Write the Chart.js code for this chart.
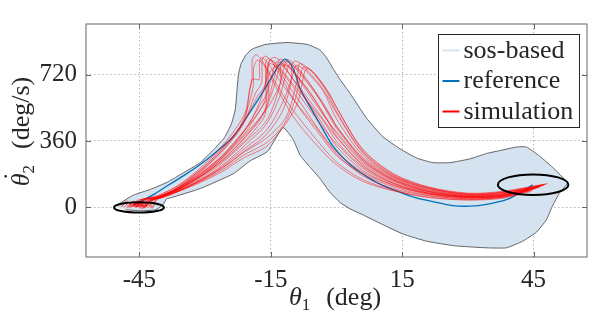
<!DOCTYPE html>
<html>
<head>
<meta charset="utf-8">
<script src="https://cdn.jsdelivr.net/npm/chart.js@4.4.1/dist/chart.umd.min.js"></script>
<style>
  body { margin: 0; background: #fff; }
  #wrap { width: 598px; height: 326px; }
  .probe { position: absolute; left: -999px; font-family: 'Liberation Serif'; }
</style>
</head>
<body>
<span class="probe">sos-based <i>θ</i></span>
<div id="wrap"><canvas id="phaseChart"></canvas></div>
<script>
// tick values
const thetaTicks = [-45, -15, 15, 45];
const rateTicks = [0, 360, 720];

// sos-based region outline, theta_1 (deg) / theta_2 dot (deg/s)
const regionTheta = [-50.7, -49.3, -46.4, -42.5, -38.6, -35.0, -31.1, -28.1, -25.6, -24.0, -23.1, -22.7, -22.4, -21.8, -20.6, -19.2, -16.1, -11.3, -6.7, -3.8, -2.2, -0.8, 0.8, 3.1, 6.9, 10.6, 14.5, 18.3, 22.0, 25.9, 30.4, 34.3, 37.2, 41.1, 43.4, 46.4, 49.3, 52.7, 50.9, 49.3, 47.9, 45.7, 42.5, 38.8, 34.3, 27.0, 20.6, 15.1, 10.6, 5.8, 3.1, 0.8, -1.5, -3.8, -6.0, -8.3, -9.9, -12.2, -15.8, -19.7, -23.6, -31.1, -37.9, -38.8, -39.7, -41.3, -44.8, -48.2];
const regionRate = [0, 23, 65, 96, 136, 186, 242, 312, 378, 453, 534, 644, 720, 780, 831, 861, 886, 896, 886, 856, 811, 755, 695, 619, 483, 383, 317, 267, 242, 242, 262, 292, 307, 327, 327, 277, 217, 131, 76, 5, -70, -136, -186, -222, -222, -211, -186, -146, -96, -40, -10, 25, 81, 156, 216, 282, 368, 433, 302, 252, 181, 101, 50, 45, 10, -15, -20, -15];

// reference trajectory
const refTheta = [-46.4, -44.8, -41.5, -38.6, -35, -31.1, -27.5, -23.6, -20.5, -17.4, -14.5, -12.9, -11.7, -9.9, -8.3, -6.0, -3.8, -0.8, 3.1, 6.9, 10.5, 14.5, 18, 22, 26.5, 30.5, 34.3, 38.8, 41.8, 44.8];
const refRate = [10, 30, 72, 116, 170, 232, 300, 383, 490, 604, 720, 780, 806, 755, 644, 544, 453, 332, 232, 166, 118, 81, 52, 30, 8, 5, 15, 40, 76, 121];

// simulated trajectories
const simTheta = [
  [-49.0, -48.0, -46.8, -44.5, -41, -36, -31, -26, -21, -19.8, -19.3, -19.2, -18.3, -16.8, -14, -10, -5, 0, 6, 13, 21, 30, 38, 44.0],
  [-44.0, -43.2, -42.3, -41.0, -38, -34, -29, -24, -21, -19.3, -17.7, -17.6, -17.0, -15.6, -13, -9, -4.5, 0, 6, 13, 21, 30, 38, 44.3],
  [-47.8, -46.9, -45.8, -43.8, -40, -36, -31, -26, -21, -18.5, -17.1, -17.0, -16.4, -15.0, -12.5, -8.5, -4, 0, 6, 13, 21, 30, 38, 45.0],
  [-45.0, -44.2, -43.3, -41.8, -40, -36, -31, -26, -21, -18, -16.3, -16.2, -15.6, -14.2, -12, -8, -4, 0, 6, 13, 21, 30, 38, 44.8],
  [-46.3, -45.5, -44.5, -43.0, -40, -36, -31, -26, -21, -18, -16, -15.2, -13.8, -11.5, -7.5, -3, 0, 6, 13, 21, 30, 38, 45.6],
  [-48.5, -47.5, -46.6, -45, -41, -36, -31, -26, -21, -17.5, -15.9, -15.8, -14.5, -13, -11, -7, -3, 0, 6, 13, 21, 30, 38, 45.4],
  [-43.5, -42.8, -42.0, -41.2, -39, -35, -31, -26, -21, -17, -15, -13.8, -12.3, -10.5, -6.5, -2.5, 0, 6, 13, 21, 30, 38, 46.3],
  [-47.2, -46.4, -45.6, -44.0, -40, -36, -31, -26, -21, -16.5, -14.5, -13.0, -11.6, -9.8, -6, -2.5, 0, 6, 13, 21, 30, 38, 46.0],
  [-46.1, -45.3, -44.2, -42.7, -40, -36, -31, -26, -21, -17.2, -15.6, -15.5, -14.2, -12.4, -11, -9.2, -5.5, -2, 0, 6, 13, 21, 30, 38, 46.2],
  [-45.5, -44.7, -43.9, -42.3, -40, -36, -31, -26, -21, -16, -13.3, -11.4, -10, -8.2, -4.5, -2, 0, 6, 13, 21, 30, 38, 46.5],
  [-49.2, -48.3, -47.2, -45.5, -41, -36, -31, -26, -21, -16, -13, -10.8, -9.4, -7.5, -4, -1.5, 0, 6, 13, 21, 30, 38, 46.8],
  [-45.9, -45.0, -44.1, -42.6, -40, -36, -31, -26, -21, -18, -16.2, -16.1, -15.3, -13.5, -11, -7, -3, 0, 6, 13, 21, 30, 38, 47.1],
  [-45.3, -44.5, -43.7, -42.1, -40, -36, -31, -26, -21, -16, -12, -9.3, -8, -6.2, -3, 0, 6, 13, 21, 30, 38, 47.4],
  [-47.0, -46.2, -45.4, -43.8, -40, -36, -31, -26, -21, -16, -11.5, -9, -8.5, -7.2, -5.5, -2.5, 0, 6, 13, 21, 30, 38, 47.6],
  [-45.6, -44.8, -43.9, -42.5, -40, -36, -31, -26, -21, -16, -12, -9.5, -7.7, -6.4, -4.8, -2, 0, 6, 13, 21, 30, 38, 47.9],
  [-46.2, -45.4, -44.6, -43.0, -40, -36, -31, -26, -21, -16, -12, -9, -7.8, -7.0, -5.8, -4, -1.5, 0, 6, 13, 21, 30, 38, 48.2],
  [-44.8, -44.0, -43.0, -41.5, -39, -35, -30, -25, -22, -20, -19.0, -18.9, -18.0, -16.5, -13.5, -9.5, -5, 0, 6, 13, 21, 30, 38, 44.5],
  [-47.5, -46.6, -45.6, -44.0, -40, -36, -31, -26, -21, -17, -14.5, -12.8, -12.7, -11.8, -10.3, -8.5, -5, -1.5, 0, 6, 13, 21, 30, 38, 46.6],
  [-45.8, -45.0, -44.0, -42.4, -40, -36, -31, -26, -21, -16.8, -14.2, -12.9, -11.7, -10.2, -7, -3, 0, 6, 13, 21, 30, 38, 46.0],
  [-46.6, -45.8, -45.0, -43.4, -40, -36, -31, -26, -21, -16, -12.5, -10.3, -10.2, -9.5, -8.2, -6.3, -3, 0, 6, 13, 21, 30, 38, 47.3]
];
const simRate = [
  [0, 35, 8, 40, 62, 120, 215, 335, 505, 640, 690, 805, 830, 790, 680, 530, 380, 245, 150, 92, 55, 40, 52, 88],
  [2, 30, -4, 45, 80, 140, 235, 360, 470, 695, 695, 790, 815, 780, 690, 560, 430, 290, 170, 100, 62, 44, 55, 92],
  [-6, 25, 0, 38, 60, 108, 196, 310, 468, 620, 680, 795, 822, 800, 700, 540, 400, 280, 180, 110, 64, 45, 54, 95],
  [0, 34, 8, 42, 66, 118, 205, 318, 470, 605, 665, 785, 808, 785, 700, 560, 420, 300, 190, 118, 70, 50, 58, 98],
  [1, 28, -8, 30, 55, 96, 170, 270, 415, 545, 690, 800, 782, 715, 600, 470, 360, 220, 130, 75, 52, 60, 103],
  [-3, 25, 2, 38, 58, 104, 180, 280, 418, 555, 625, 770, 815, 800, 735, 590, 445, 330, 200, 120, 72, 51, 61, 101],
  [2, 30, -4, 35, 65, 118, 186, 284, 420, 545, 690, 790, 770, 715, 590, 460, 380, 235, 140, 82, 57, 66, 108],
  [-1, 33, 5, 40, 58, 100, 170, 258, 380, 522, 680, 805, 787, 737, 620, 490, 400, 245, 145, 84, 58, 67, 107],
  [4, 27, -6, 33, 62, 107, 182, 275, 400, 540, 600, 720, 760, 780, 766, 722, 605, 470, 385, 228, 132, 78, 55, 63, 109],
  [-2, 29, 3, 37, 56, 95, 160, 242, 352, 470, 630, 800, 786, 740, 615, 510, 430, 262, 155, 92, 63, 72, 112],
  [1, 24, -5, 36, 55, 92, 152, 228, 335, 452, 600, 775, 762, 712, 600, 505, 440, 270, 160, 95, 65, 74, 115],
  [-3, 31, 6, 39, 60, 102, 168, 250, 360, 440, 510, 700, 780, 760, 690, 560, 430, 345, 212, 126, 75, 54, 62, 117],
  [2, 26, -3, 34, 52, 88, 145, 215, 305, 395, 540, 770, 760, 722, 630, 480, 282, 165, 100, 68, 78, 120],
  [-1, 32, 4, 37, 53, 90, 145, 213, 301, 375, 490, 690, 780, 770, 735, 640, 520, 300, 172, 104, 70, 80, 123],
  [3, 28, -4, 35, 51, 87, 140, 204, 285, 350, 450, 580, 760, 755, 718, 630, 545, 310, 178, 107, 73, 83, 125],
  [0, 30, 2, 38, 50, 85, 135, 195, 270, 330, 440, 560, 680, 750, 745, 700, 610, 540, 315, 182, 110, 76, 86, 128],
  [1, 28, -3, 40, 68, 128, 225, 350, 440, 560, 665, 760, 800, 770, 640, 480, 350, 230, 140, 88, 52, 38, 48, 86],
  [0, 30, 3, 42, 57, 100, 175, 268, 392, 500, 590, 680, 770, 792, 780, 730, 625, 500, 440, 258, 150, 88, 60, 70, 113],
  [-4, 26, -2, 35, 56, 97, 166, 256, 375, 500, 660, 760, 772, 745, 640, 500, 410, 252, 148, 86, 59, 68, 110],
  [2, 30, -5, 36, 52, 89, 148, 222, 318, 418, 560, 700, 780, 795, 782, 735, 640, 512, 295, 168, 102, 69, 79, 121]
];

// start and goal sets (ellipses)
const ellipseTheta = [-45.1, 44.9];
const ellipseRate = [-2, 122];
const ellipseHalfWidth = [5.7, 8.05];
const ellipseHalfHeight = [28, 56];

const legendLabels = ['sos-based', 'reference', 'simulation'];
const legendColors = ['#d6e4f1', '#0072bd', '#ff0000'];

const serif = "'Liberation Serif', 'DejaVu Serif', serif";
const inkColor = '#262626';
const frameColor = '#666666';

function toPoints(xs, ys) {
  const n = Math.min(xs.length, ys.length);
  const pts = [];
  for (let i = 0; i < n; i++) pts.push({ x: xs[i], y: ys[i] });
  return pts;
}

// draws text pieces centred on 0, baseline at 0
function drawPieces(ctx, pieces) {
  let total = 0;
  pieces.forEach(p => { ctx.font = p.font; p.w = ctx.measureText(p.text).width; total += p.w + (p.gap || 0); });
  let x = -total / 2;
  pieces.forEach(p => {
    ctx.font = p.font;
    ctx.fillText(p.text, x, p.dy || 0);
    if (p.dot) {
      ctx.textAlign = 'center';
      ctx.fillText('\u02D9', x + p.w / 2 + 2, -8);
      ctx.textAlign = 'left';
    }
    x += p.w + (p.gap || 0);
  });
}

const extras = {
  id: 'extras',
  afterDatasetsDraw(chart) {
    const { ctx, scales: { x, y } } = chart;
    ctx.save();
    ctx.strokeStyle = '#000';
    ctx.lineWidth = 2;
    ellipseTheta.forEach((t, i) => {
      const cx = x.getPixelForValue(t);
      const cy = y.getPixelForValue(ellipseRate[i]);
      const rx = Math.abs(x.getPixelForValue(t + ellipseHalfWidth[i]) - cx);
      const ry = Math.abs(y.getPixelForValue(ellipseRate[i] + ellipseHalfHeight[i]) - cy);
      ctx.beginPath();
      ctx.ellipse(cx, cy, rx, ry, 0, 0, Math.PI * 2);
      ctx.stroke();
    });
    ctx.restore();
  },
  afterDraw(chart) {
    const { ctx, chartArea: a, scales: { x, y } } = chart;
    ctx.save();

    // axes box + inward ticks
    ctx.strokeStyle = frameColor;
    ctx.lineWidth = 1;
    ctx.strokeRect(a.left, a.top, a.right - a.left, a.bottom - a.top);
    ctx.beginPath();
    thetaTicks.forEach(v => {
      const px = Math.round(x.getPixelForValue(v)) + 0.5;
      ctx.moveTo(px, a.bottom); ctx.lineTo(px, a.bottom - 5);
      ctx.moveTo(px, a.top); ctx.lineTo(px, a.top + 5);
    });
    rateTicks.forEach(v => {
      const py = Math.round(y.getPixelForValue(v)) + 0.5;
      ctx.moveTo(a.left, py); ctx.lineTo(a.left + 5, py);
      ctx.moveTo(a.right, py); ctx.lineTo(a.right - 5, py);
    });
    ctx.stroke();

    // legend
    const bw = 141, bh = 93;
    const bx = Math.round(a.right - 8 - bw) + 0.5;
    const by = Math.round(a.top + 10) + 0.5;
    ctx.fillStyle = '#fff';
    ctx.fillRect(bx, by, bw, bh);
    ctx.strokeStyle = inkColor;
    ctx.strokeRect(bx, by, bw, bh);
    ctx.font = '26px ' + serif;
    ctx.textAlign = 'left';
    ctx.textBaseline = 'alphabetic';
    legendLabels.forEach((label, i) => {
      const ry = by + 16 + i * 30.5;
      ctx.strokeStyle = legendColors[i];
      ctx.lineWidth = 2;
      ctx.beginPath();
      ctx.moveTo(bx + 4, ry); ctx.lineTo(bx + 21, ry);
      ctx.stroke();
      ctx.fillStyle = inkColor;
      ctx.fillText(label, bx + 25, ry + 7);
    });

    // axis titles
    ctx.fillStyle = inkColor;
    ctx.textAlign = 'left';
    ctx.save();
    ctx.translate(335, 305);
    drawPieces(ctx, [
      { text: '\u03B8', font: 'italic 26px ' + serif },
      { text: '1', font: '17px ' + serif, dy: 5, gap: 16 },
      { text: '(deg)', font: '26px ' + serif }
    ]);
    ctx.restore();
    ctx.save();
    ctx.translate(29, 131.5);
    ctx.rotate(-Math.PI / 2);
    drawPieces(ctx, [
      { text: '\u03B8', font: 'italic 26px ' + serif, dot: true },
      { text: '2', font: '17px ' + serif, dy: 5, gap: 16 },
      { text: '(deg/s)', font: '26px ' + serif }
    ]);
    ctx.restore();

    ctx.restore();
  }
};

function buildChart() {
  const datasets = [];
  datasets.push({
    label: 'sos-based',
    data: toPoints(regionTheta, regionRate),
    showLine: true,
    fill: 'shape',
    backgroundColor: '#d5e2ef',
    borderColor: '#555555',
    borderWidth: 0.9,
    pointRadius: 0,
    tension: 0.15,
    order: 3
  });
  datasets.push({
    label: 'reference',
    data: toPoints(refTheta, refRate),
    showLine: true,
    borderColor: '#0072bd',
    borderWidth: 1.3,
    pointRadius: 0,
    tension: 0.3,
    order: 2
  });
  simTheta.forEach((xs, i) => {
    datasets.push({
      label: 'simulation',
      data: toPoints(xs, simRate[i]),
      showLine: true,
      borderColor: 'rgba(255, 0, 0, 0.8)',
      borderWidth: 0.6,
      pointRadius: 0,
      tension: 0.3,
      order: 1
    });
  });

  new Chart(document.getElementById('phaseChart'), {
    type: 'scatter',
    data: { datasets },
    options: {
      responsive: true,
      maintainAspectRatio: false,
      devicePixelRatio: 1,
      animation: false,
      layout: { padding: { left: 0, right: 11, top: 5, bottom: 0 } },
      plugins: {
        legend: { display: false },
        tooltip: { enabled: false }
      },
      scales: {
        x: {
          type: 'linear',
          min: -57.2,
          max: 57.2,
          afterBuildTicks: s => { s.ticks = thetaTicks.map(v => ({ value: v })); },
          afterFit: s => { s.height = 69; },
          ticks: { color: inkColor, padding: 8, font: { family: serif, size: 25 }, callback: v => String(v) },
          grid: { color: '#b5b5b5', lineWidth: 1, drawTicks: false },
          border: { display: false, dash: [1.5, 2.5] }
        },
        y: {
          type: 'linear',
          min: -272,
          max: 997,
          afterBuildTicks: s => { s.ticks = rateTicks.map(v => ({ value: v })); },
          afterFit: s => { s.width = 86; },
          ticks: { color: inkColor, padding: 9, font: { family: serif, size: 25 }, callback: v => String(v) },
          grid: { color: '#b5b5b5', lineWidth: 1, drawTicks: false },
          border: { display: false, dash: [1.5, 2.5] }
        }
      }
    },
    plugins: [extras]
  });
}

Promise.all([
  document.fonts.load("25px 'Liberation Serif'"),
  document.fonts.load("italic 25px 'Liberation Serif'")
]).catch(() => {}).then(buildChart);
</script>
</body>
</html>
